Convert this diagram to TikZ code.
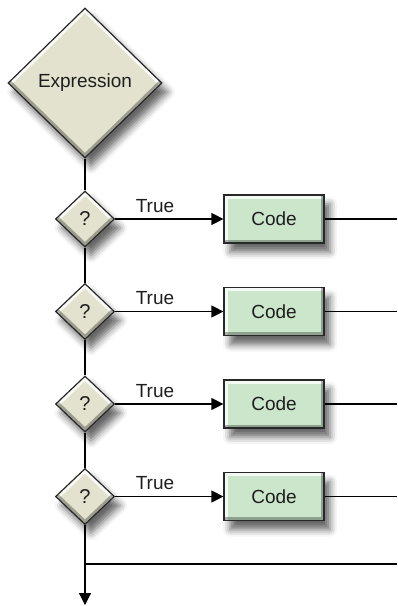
\documentclass[tikz,border=0pt]{standalone}
\usepackage{fontspec}
\setmainfont{Liberation Sans}
\usetikzlibrary{shapes.geometric,shadows.blur,arrows.meta}
\definecolor{decfill}{RGB}{226,226,206}
\definecolor{codefill}{RGB}{204,230,204}
\definecolor{edgegray}{RGB}{40,40,40}
\definecolor{inkgray}{RGB}{30,30,30}
\tikzset{
  soft/.style={blur shadow={shadow xshift=6pt,shadow yshift=-9pt,shadow blur radius=7pt,shadow opacity=60}},
  % raised look: light upper edges, dark lower edges
  bevel diamond/.style={path picture={
    \draw[white,opacity=0.8,line width=7pt]
      (path picture bounding box.west) -- (path picture bounding box.north) -- (path picture bounding box.east);
    \draw[black,opacity=0.3,line width=7pt]
      (path picture bounding box.west) -- (path picture bounding box.south) -- (path picture bounding box.east);
  }},
  bevel box/.style={path picture={
    \draw[white,opacity=0.8,line width=7pt]
      (path picture bounding box.south west) -- (path picture bounding box.north west) -- (path picture bounding box.north east);
    \draw[black,opacity=0.3,line width=7pt]
      (path picture bounding box.south west) -- (path picture bounding box.south east) -- (path picture bounding box.north east);
  }},
  decision/.style={diamond,draw=edgegray,line width=1.2pt,fill=decfill,inner sep=0pt,soft,bevel diamond,text=inkgray},
  codebox/.style={rectangle,draw=edgegray,line width=1.2pt,fill=codefill,minimum width=100pt,
    minimum height=48pt,inner sep=0pt,soft,bevel box,text=inkgray,font=\fontsize{19}{21}\selectfont},
  flow/.style={line width=1.2pt,draw=black},
  tip/.style={-{Triangle[length=12pt,width=12pt]}},
  lbl/.style={font=\fontsize{19}{21}\selectfont,inner sep=0pt,text=inkgray}
}
\begin{document}
\begin{tikzpicture}[x=1pt,y=-1pt]
\useasboundingbox (0,0) rectangle (397,606);
% the selector expression
\node[decision,minimum width=154pt,minimum height=150pt,font=\fontsize{19}{21}\selectfont] (expr) at (85,83) {Expression};
% four case tests, each with its code block
\foreach \i/\y in {1/219,2/311.5,3/404,4/496.5}{
  \node[decision,minimum width=59pt,minimum height=56pt,font=\fontsize{20}{22}\selectfont] (q\i) at (85,\y) {?};
  \node[codebox] (c\i) at (274,\y) {Code};
  \node[lbl] (t\i) at (155,\y-13) {True};
  \coordinate (r\i) at (397,\y);
  \draw[flow,tip] (q\i.east) -- (c\i.west);
  \draw[flow] (c\i.east) -- (r\i);
}
% spine linking the tests
\draw[flow] (expr.south) -- (q1.north);
\draw[flow] (q1.south) -- (q2.north);
\draw[flow] (q2.south) -- (q3.north);
\draw[flow] (q3.south) -- (q4.north);
% exit
\coordinate (join) at (85,564);
\coordinate (joinr) at (397,564);
\coordinate (out) at (85,605);
\draw[flow] (join) -- (joinr);
\draw[flow,tip] (q4.south) -- (out);
\end{tikzpicture}
\end{document}
